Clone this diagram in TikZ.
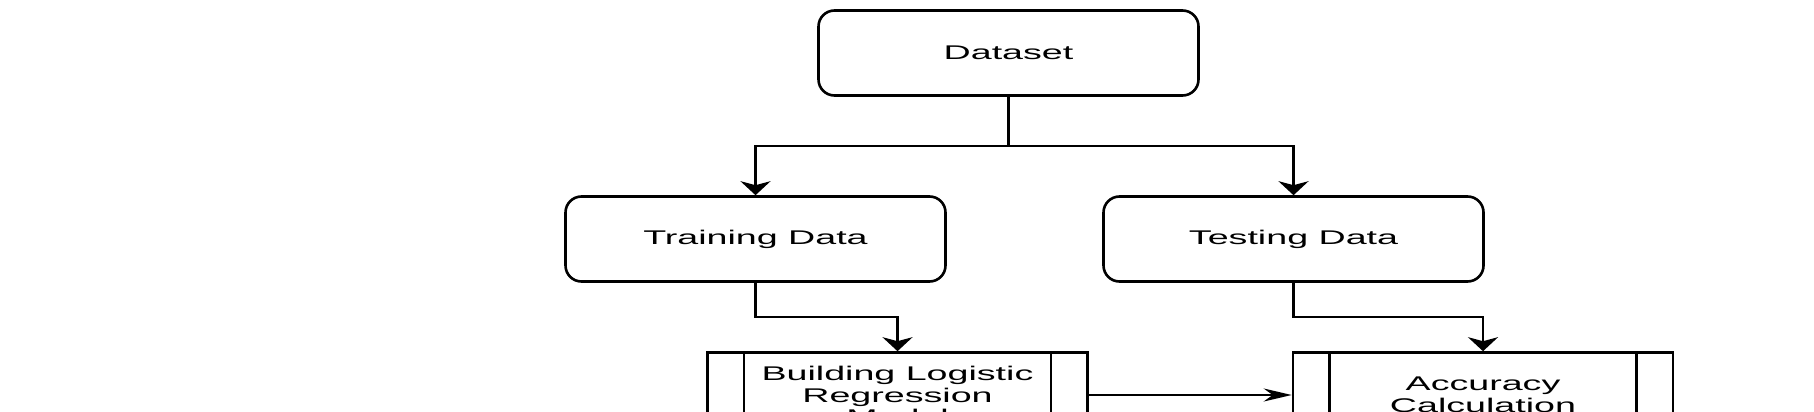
\documentclass[tikz,border=0pt]{standalone}
\usepackage{fontspec}
\newfontfamily\wfont[FakeStretch=1.9]{Liberation Sans}
\usetikzlibrary{arrows.meta}
\begin{document}
\begin{tikzpicture}[x=1pt,y=-1pt,
  box/.style={draw, line width=2.6pt, minimum width=380pt, minimum height=85pt, inner sep=0pt, align=center, font=\wfont\fontsize{19.8}{21.5}\selectfont},
  rbox/.style={box, rounded corners=16pt},
  pbox/.style={box},
  conn/.style={line width=2.5pt},
  varr/.style={conn, -{Stealth[width=30pt,length=14pt,inset=4pt]}},
  harr/.style={conn, -{Stealth[width=13pt,length=28pt,inset=9pt]}},
]
\clip (0,0) rectangle (1814,412);
\fill[white] (0,0) rectangle (1814,412);
\node[rbox] (ds) at (1008.5,53) {Dataset};
\node[rbox] (tr) at (755.5,239) {Training Data};
\node[rbox] (te) at (1293.5,239) {Testing Data};
\node[pbox] (bd) at (897.5,395) {Building Logistic\\Regression\\Model};
\node[pbox] (ac) at (1483,395) {Accuracy\\Calculation};
\foreach \n in {bd,ac}{
  \draw[conn] ([xshift=38pt]\n.north west) -- ([xshift=38pt]\n.south west);
  \draw[conn] ([xshift=-38pt]\n.north east) -- ([xshift=-38pt]\n.south east);
}
\coordinate (split) at (1008.5,146);
\coordinate (lv2) at (0,317);
\draw[conn] (ds.south) -- (split);
\draw[varr] (split) -| (tr.north);
\draw[varr] (split) -| (te.north);
\draw[varr] (tr.south) -- (tr.south |- lv2) -| (bd.north);
\draw[varr] (te.south) -- (te.south |- lv2) -| (ac.north);
\draw[harr] (bd.east) -- (ac.west);
\end{tikzpicture}
\end{document}
